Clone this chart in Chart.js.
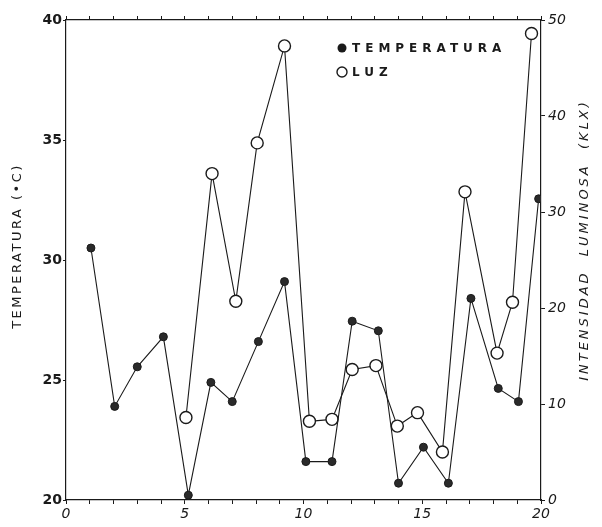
<!DOCTYPE html>
<html>
<head>
<meta charset="utf-8">
<script src="https://cdn.jsdelivr.net/npm/chart.js@4"></script>
<style>
html,body{margin:0;padding:0;background:#fff;}
#wrap{width:602px;height:527px;position:relative;}
</style>
</head>
<body>
<div id="wrap"><canvas id="c"></canvas></div>
<script>
// Day positions (as drawn) and values
const tempDays = [1.05, 2.05, 3.0, 4.1, 5.15, 6.1, 7.0, 8.1, 9.2, 10.1, 11.2, 12.05, 13.15, 14.0, 15.05, 16.1, 17.05, 18.2, 19.05, 19.9];
const tempValues = [30.5, 23.9, 25.55, 26.8, 20.2, 24.9, 24.1, 26.6, 29.1, 21.6, 21.6, 27.45, 27.05, 20.7, 22.2, 20.7, 28.4, 24.65, 24.1, 32.55];
const luzDays = [5.05, 6.15, 7.15, 8.05, 9.2, 10.25, 11.2, 12.05, 13.05, 13.95, 14.8, 15.85, 16.8, 18.15, 18.8, 19.6];
const luzValues = [8.6, 34.0, 20.7, 37.2, 47.3, 8.2, 8.4, 13.6, 14.0, 7.7, 9.1, 5.0, 32.1, 15.3, 20.6, 48.6];
const xLabels = ['0', '5', '10', '15', '20'];
const seriesNames = ['TEMPERATURA', 'LUZ'];
const leftTitle = 'TEMPERATURA (•C)';
const rightTitle = 'INTENSIDAD  LUMINOSA  (KLX)';

const INK = '#1a1a1a';

const pts = (xs, ys) => xs.map((x, i) => ({x: x, y: ys[i]}));

const decor = {
  id: 'decor',
  afterDraw(chart) {
    const ctx = chart.ctx;
    const ca = chart.chartArea;
    ctx.save();
    ctx.fillStyle = INK;
    ctx.strokeStyle = INK;
    // legend
    const lx = ca.left + 276, ly1 = 48, ly2 = 72;
    ctx.beginPath(); ctx.arc(lx, ly1, 4.5, 0, Math.PI * 2); ctx.fill();
    ctx.lineWidth = 1.4;
    ctx.beginPath(); ctx.arc(lx, ly2, 5, 0, Math.PI * 2); ctx.stroke();
    ctx.font = 'bold 12px "DejaVu Sans"';
    ctx.letterSpacing = '5px';
    ctx.textBaseline = 'middle';
    ctx.textAlign = 'left';
    ctx.fillText(seriesNames[0], lx + 10, ly1 + 1);
    ctx.fillText(seriesNames[1], lx + 10, ly2 + 1);
    // left title
    ctx.font = '13px "DejaVu Sans"';
    ctx.letterSpacing = '2.5px';
    ctx.textAlign = 'center';
    ctx.save();
    ctx.translate(18, 246);
    ctx.rotate(-Math.PI / 2);
    ctx.fillText(leftTitle, 0, 0);
    ctx.restore();
    // right title (reads bottom to top)
    ctx.font = 'italic 13px "DejaVu Sans"';
    ctx.letterSpacing = '3px';
    ctx.save();
    ctx.translate(585, 240);
    ctx.rotate(-Math.PI / 2);
    ctx.fillText(rightTitle, 0, 0);
    ctx.restore();
    ctx.restore();
  }
};

new Chart(document.getElementById('c'), {
  type: 'line',
  data: {
    datasets: [
      {
        label: seriesNames[0],
        data: pts(tempDays, tempValues),
        yAxisID: 'yT',
        xAxisID: 'x',
        borderColor: INK,
        borderWidth: 1.1,
        pointRadius: 4,
        pointBackgroundColor: '#2a2a2a',
        pointBorderColor: INK,
        pointBorderWidth: 1,
        tension: 0,
        order: 1
      },
      {
        label: seriesNames[1],
        data: pts(luzDays, luzValues),
        yAxisID: 'yL',
        xAxisID: 'x',
        borderColor: INK,
        borderWidth: 1.1,
        pointRadius: 6,
        pointBackgroundColor: '#ffffff',
        pointBorderColor: INK,
        pointBorderWidth: 1.4,
        tension: 0,
        order: 2
      }
    ]
  },
  plugins: [decor],
  options: {
    responsive: true,
    maintainAspectRatio: false,
    animation: false,
    devicePixelRatio: 1,
    layout: {padding: 0},
    plugins: {legend: {display: false}, tooltip: {enabled: false}},
    scales: {
      x: {
        type: 'linear',
        position: 'bottom',
        min: 0, max: 20,
        afterFit(s) { s.height = 27; },
        grid: {drawOnChartArea: false, drawTicks: true, tickLength: 4, color: INK},
        border: {display: true, color: INK, width: 1.2},
        ticks: {
          stepSize: 1,
          autoSkip: false,
          maxRotation: 0,
          padding: 2,
          color: INK,
          font: {family: 'DejaVu Sans', size: 14, style: 'italic'},
          callback: (v) => (v % 5 === 0 ? xLabels[v / 5] : '')
        }
      },
      xTop: {
        type: 'linear',
        position: 'top',
        min: 0, max: 20,
        afterFit(s) { s.height = 20; },
        grid: {drawOnChartArea: false, drawTicks: true, tickLength: 4, color: INK},
        border: {display: true, color: INK, width: 1.2},
        ticks: {stepSize: 1, autoSkip: false, display: false}
      },
      yT: {
        type: 'linear',
        position: 'left',
        min: 20, max: 40,
        afterFit(s) { s.width = 66; },
        grid: {drawOnChartArea: false, drawTicks: true, tickLength: 3, color: INK},
        border: {display: true, color: INK, width: 1.2},
        ticks: {
          stepSize: 5,
          padding: 1,
          color: INK,
          font: {family: 'DejaVu Sans', size: 14, weight: 'bold'}
        }
      },
      yL: {
        type: 'linear',
        position: 'right',
        min: 0, max: 50,
        afterFit(s) { s.width = 61; },
        grid: {drawOnChartArea: false, drawTicks: true, tickLength: 4, color: INK},
        border: {display: true, color: INK, width: 1.2},
        ticks: {
          stepSize: 10,
          padding: 3,
          color: INK,
          font: {family: 'DejaVu Sans', size: 14, style: 'italic'}
        }
      }
    }
  }
});
</script>
</body>
</html>
